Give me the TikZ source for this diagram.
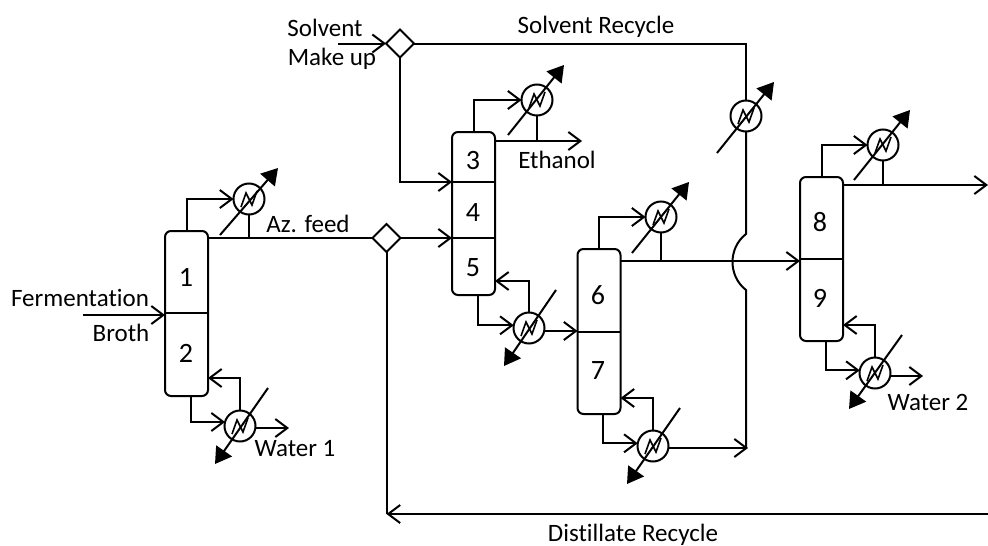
\documentclass[tikz,border=0pt]{standalone}
\usepackage{fontspec}
\setmainfont{Carlito}[Ligatures=NoCommon]
\usetikzlibrary{arrows.meta, calc, shapes.geometric}

\tikzset{
	stream/.style={line width=2pt, -{Straight Barb[length=12pt, width=18pt, line width=2pt]}},
	pipe/.style={line width=2pt},
	column/.style={draw, line width=2pt, rounded corners=6pt, minimum width=43pt, inner sep=0pt, outer sep=0pt},
	exchanger/.style={draw, circle, line width=2pt, minimum size=31pt, inner sep=0pt, outer sep=0pt},
	splitter/.style={draw, diamond, line width=2pt, minimum width=28pt, minimum height=28pt, inner sep=0pt, outer sep=0pt, aspect=1},
	utility/.style={line width=2pt, -{Triangle[length=16pt, width=19pt]}},
	label/.style={font=\fontsize{25}{29}\selectfont, inner sep=0pt},
	number/.style={font=\fontsize{28}{32}\selectfont, inner sep=0pt},
}

\begin{document}
\begin{tikzpicture}[x=1pt, y=-1pt]
	\useasboundingbox (0,0) rectangle (988,546);

	% columns
	\node [column, minimum height=165pt] (C1) at (186.5,313.5) {};
	\node [column, minimum height=163pt] (C2) at (473.5,213.5) {};
	\node [column, minimum height=165pt] (C3) at (599,331.5) {};
	\node [column, minimum height=164pt] (C4) at (821.5,259) {};

	% section lines and numbers
	\foreach \c/\y in {C1/313, C2/182, C2/238, C3/332, C4/259}{
		\draw [line width=1.8pt] (\c.west |- 0,\y) -- (\c.east |- 0,\y);
	}
	\foreach \i/\x/\y in {1/186/277, 2/186/353, 3/473/161, 4/473/213, 5/473/268, 6/598/295, 7/598/371, 8/820/222, 9/820/298}{
		\node [number] (n\i) at (\x,\y) {\i};
	}

	% heat exchangers: name, centre, offsets of the utility line
	\foreach \h/\x/\y/\sx/\sy/\ex/\ey in {H1/249/199/-29/36/29/-31, H2/537/100/-29/35/27/-35, H3/661/217/-29/36/28/-35, H4/883/145/-29/35/27/-35, H5/746/116/-29/37/28/-34,
			R1/240/426/28/-38/-25/38, R2/529/328/27/-38/-25/38, R3/653/446/27/-38/-26/38, R4/875/373/27/-38/-26/36}{
		\node [exchanger] (\h) at (\x,\y) {};
		\draw [utility] ($(\h)+(\sx,\sy)$) -- ($(\h)+(\ex,\ey)$);
		\draw [line width=1.6pt] ($(\h)+(-8,8)$) -- ($(\h)+(-3,-6)$) -- ($(\h)+(3,6)$) -- ($(\h)+(8,-8)$);
	}

	% splitters
	\node [splitter] (D1) at (386.5,238) {};
	\node [splitter] (D2) at (400,43.5) {};

	% free ends
	\coordinate (feed) at (83,315);
	\coordinate (makeup) at (338,43.5);
	\coordinate (ethanol) at (582,141);
	\coordinate (water1) at (289,428);
	\coordinate (water2) at (923,376);
	\coordinate (product) at (988,185);
	\coordinate (recycle) at (988,514);
	\coordinate (corner) at (386.5,514);
	\coordinate (jumptop) at (746,234);
	\coordinate (jumpbot) at (746,290);
	\coordinate (merge) at (748,448);
	\coordinate (top) at (746,43.5);

	% column 1
	\draw [stream] (feed) -- (C1.west |- feed);
	\draw [stream] (C1.north) |- (H1.west);
	\draw [pipe] (C1.east |- D1.west) -- (D1.west);
	\draw [pipe] (H1.south) -- (H1.south |- D1.west);
	\draw [stream] ($(C1.south)+(4,0)$) |- (R1.165);
	\draw [stream] (R1.north) |- (C1.east |- 0,378);
	\draw [stream] (R1.east |- water1) -- (water1);

	% column 2
	\draw [stream] (D1.east) -- (C2.west |- D1.east);
	\draw [stream] (makeup) -- (D2.west);
	\draw [stream] (D2.south) |- (C2.west |- 0,182);
	\draw [stream] (C2.north) |- (H2.west);
	\draw [stream] (C2.east |- ethanol) -- (ethanol);
	\draw [pipe] (H2.south) -- (H2.south |- ethanol);
	\draw [stream] ($(C2.south)+(4,0)$) |- (R2.170);
	\draw [stream] (R2.north) |- (C2.east |- 0,281);
	\draw [stream] (R2.east |- 0,331) -- (C3.west |- 0,331);

	% column 3
	\draw [stream] (C3.north) |- (H3.west);
	\draw [stream] (C3.east |- 0,261) -- (C4.west |- 0,261);
	\draw [pipe] (H3.south) -- (H3.south |- 0,261);
	\draw [stream] ($(C3.south)+(4,0)$) |- (R3.170);
	\draw [stream] (R3.north) |- (C3.east |- 0,398);
	\draw [stream] (R3.east |- merge) -- (merge);

	% solvent recycle
	\draw [pipe] (D2.east) -- (top) -- (H5.north);
	\draw [pipe] (H5.south) -- (jumptop) .. controls (728,248) and (728,276) .. (jumpbot) -- (jumpbot |- merge);

	% column 4
	\draw [stream] (C4.north) |- (H4.west);
	\draw [stream] (C4.east |- product) -- (product);
	\draw [pipe] (H4.south) -- (H4.south |- product);
	\draw [stream] ($(C4.south)+(4,0)$) |- (R4.170);
	\draw [stream] (R4.north) |- (C4.east |- 0,325);
	\draw [stream] (R4.east |- water2) -- (water2);

	% distillate recycle
	\draw [pipe] (D1.south) -- (corner);
	\draw [stream] (recycle) -- (corner);

	% labels
	\node [label] (t1) at (80,298) {Fermentation};
	\node [label] (t2) at (121,333) {Broth};
	\node [label] (t3) at (308,224) {Az. feed};
	\node [label] (t4) at (295,449) {Water 1};
	\node [label] (t5) at (325,28) {Solvent};
	\node [label] (t6) at (332,59) {Make up};
	\node [label] (t7) at (596,27) {Solvent Recycle};
	\node [label] (t8) at (557,160) {Ethanol};
	\node [label] (t9) at (928,402) {Water 2};
	\node [label] (t10) at (633,535) {Distillate Recycle};
\end{tikzpicture}
\end{document}
